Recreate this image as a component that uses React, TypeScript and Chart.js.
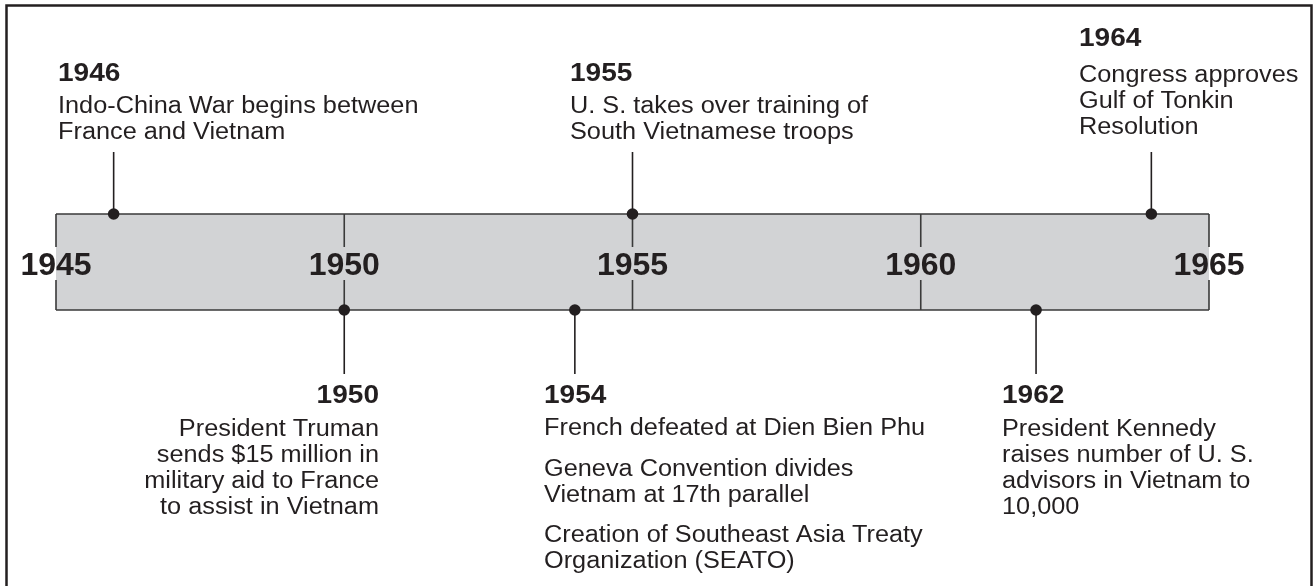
import React, { useEffect, useRef } from 'react';
import { Chart, registerables } from 'chart.js';

Chart.register(...registerables);

// ---- data ----
const axisYears = [1945, 1950, 1955, 1960, 1965];
const axisLabels = ['1945', '1950', '1955', '1960', '1965'];
const eventYears = [1946, 1950, 1954, 1955, 1962, 1964];
// 1 = event above the bar, 0 = event below the bar
const eventSides = [1, 0, 0, 1, 0, 1];
const eventTitles = ['1946', '1950', '1954', '1955', '1962', '1964'];
const eventParagraphs: string[][][] = [
  [['Indo-China War begins between', 'France and Vietnam']],
  [['President Truman', 'sends $15 million in', 'military aid to France', 'to assist in Vietnam']],
  [
    ['French defeated at Dien Bien Phu'],
    ['Geneva Convention divides', 'Vietnam at 17th parallel'],
    ['Creation of Southeast Asia Treaty', 'Organization (SEATO)'],
  ],
  [['U. S. takes over training of', 'South Vietnamese troops']],
  [['President Kennedy', 'raises number of U. S.', 'advisors in Vietnam to', '10,000']],
  [['Congress approves', 'Gulf of Tonkin', 'Resolution']],
];

// ---- layout (positions / styles only) ----
const textLayout = [
  { x: 58, align: 'left', head: 81, body: 113 },
  { x: 379, align: 'right', head: 403, body: 436 },
  { x: 544, align: 'left', head: 403, body: 435 },
  { x: 570, align: 'left', head: 81, body: 113 },
  { x: 1002, align: 'left', head: 403, body: 436 },
  { x: 1079, align: 'left', head: 46, body: 82 },
];
const INK = '#231f20';
const EDGE = '#3a3a3a';
const BAR_FILL = '#d2d3d5';
const FONT = '"Liberation Sans", Arial, Helvetica, sans-serif';
const STRETCH = 1.1;
const LINE_H = 26;
const PARA_GAP = 14.5;
const STEM_TOP = 152;
const STEM_BOTTOM = 374;

function stretchedText(ctx: CanvasRenderingContext2D, text: string, x: number, y: number, align: string) {
  ctx.save();
  ctx.translate(x, y);
  ctx.scale(STRETCH, 1);
  ctx.textAlign = align as CanvasTextAlign;
  ctx.textBaseline = 'alphabetic';
  ctx.fillText(text, 0, 0);
  ctx.restore();
}

const timelinePlugin = {
  id: 'timeline',
  beforeDatasetsDraw(chart: any) {
    const ctx: CanvasRenderingContext2D = chart.ctx;
    const xs = chart.scales.x;
    const ys = chart.scales.y;
    ctx.save();
    // outer frame
    ctx.strokeStyle = INK;
    ctx.lineWidth = 2.5;
    ctx.strokeRect(6.5, 5.5, 1305, 620);

    const x0 = xs.getPixelForValue(axisYears[0]);
    const x1 = xs.getPixelForValue(axisYears[axisYears.length - 1]);
    const yT = ys.getPixelForValue(1);
    const yB = ys.getPixelForValue(0);
    const mid = (yT + yB) / 2;

    ctx.fillStyle = BAR_FILL;
    ctx.fillRect(x0, yT, x1 - x0, yB - yT);

    ctx.strokeStyle = EDGE;
    ctx.lineWidth = 1.6;
    ctx.beginPath();
    ctx.moveTo(x0, yT);
    ctx.lineTo(x1, yT);
    ctx.moveTo(x0, yB);
    ctx.lineTo(x1, yB);
    ctx.stroke();

    const labTop = mid - 15;
    const labBot = mid + 18;
    axisYears.forEach((yr) => {
      const px = xs.getPixelForValue(yr);
      ctx.beginPath();
      ctx.moveTo(px, yT);
      ctx.lineTo(px, labTop);
      ctx.moveTo(px, labBot);
      ctx.lineTo(px, yB);
      ctx.stroke();
    });

    ctx.fillStyle = INK;
    ctx.font = `bold 32px ${FONT}`;
    ctx.textAlign = 'center';
    ctx.textBaseline = 'alphabetic';
    axisYears.forEach((yr, i) => {
      ctx.fillText(axisLabels[i], xs.getPixelForValue(yr), mid + 13);
    });

    // stems
    ctx.strokeStyle = INK;
    ctx.lineWidth = 1.6;
    eventYears.forEach((yr, i) => {
      const px = xs.getPixelForValue(yr);
      ctx.beginPath();
      if (eventSides[i] === 1) {
        ctx.moveTo(px, STEM_TOP);
        ctx.lineTo(px, yT);
      } else {
        ctx.moveTo(px, yB);
        ctx.lineTo(px, STEM_BOTTOM);
      }
      ctx.stroke();
    });
    ctx.restore();
  },
  afterDatasetsDraw(chart: any) {
    const ctx: CanvasRenderingContext2D = chart.ctx;
    ctx.save();
    ctx.fillStyle = INK;
    eventTitles.forEach((title, i) => {
      const lay = textLayout[i];
      ctx.font = `bold 25.5px ${FONT}`;
      stretchedText(ctx, title, lay.x, lay.head, lay.align);
      ctx.font = `23px ${FONT}`;
      let y = lay.body;
      eventParagraphs[i].forEach((para, pi) => {
        if (pi > 0) y += PARA_GAP;
        para.forEach((line) => {
          stretchedText(ctx, line, lay.x, y, lay.align);
          y += LINE_H;
        });
      });
    });
    ctx.restore();
  },
};

export default function App() {
  const ref = useRef<HTMLCanvasElement | null>(null);
  useEffect(() => {
    if (!ref.current) return;
    const chart = new Chart(ref.current, {
      type: 'scatter',
      data: {
        datasets: [
          {
            data: eventYears.map((yr, i) => ({ x: yr, y: eventSides[i] })),
            pointRadius: 5.8,
            pointHoverRadius: 5.8,
            backgroundColor: INK,
            borderWidth: 0,
            clip: false as any,
          },
        ],
      },
      options: {
        animation: false,
        responsive: false,
        devicePixelRatio: 1,
        events: [],
        layout: { padding: { left: 56, right: 104, top: 214, bottom: 276 } },
        scales: {
          x: { type: 'linear', min: 1945, max: 1965, display: false },
          y: { type: 'linear', min: 0, max: 1, display: false },
        },
        plugins: { legend: { display: false }, tooltip: { enabled: false } },
      },
      plugins: [timelinePlugin],
    });
    return () => chart.destroy();
  }, []);
  return (
    <div style={{ position: 'absolute', left: 0, top: 0, width: 1313, height: 586, background: '#fff' }}>
      <canvas ref={ref} width={1313} height={586} style={{ display: 'block' }} />
    </div>
  );
}
